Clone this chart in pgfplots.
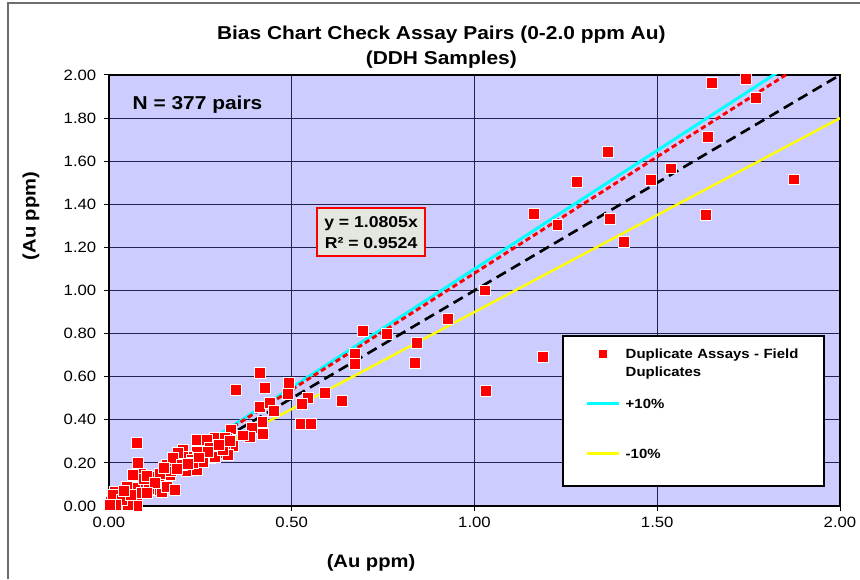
\documentclass[border=0pt]{standalone}
\usepackage{fontspec}
\setmainfont{Liberation Sans}[FakeStretch=1.12]
\usepackage{pgfplots}
\usepackage{pgfplotstable}
\pgfplotsset{compat=1.18}
\definecolor{plotbg}{RGB}{204,204,255}
\definecolor{gridc}{RGB}{35,35,80}
\definecolor{eqfill}{RGB}{228,230,224}
\definecolor{cyanl}{RGB}{0,255,255}
\definecolor{yell}{RGB}{255,255,0}
\definecolor{framec}{RGB}{110,110,110}
\pgfplotsset{
  leglinecode/.style={legend image code/.code={\draw[##1,line width=2pt] (0pt,3.5pt) -- (24pt,3.5pt);}},
  legmarkcode/.style={legend image code/.code={\draw[red,fill=red,line width=0.3pt] (9.4pt,0.9pt) rectangle (14.6pt,6.1pt);}},
}
\pgfplotstableread{
x y
1.743 1.981
1.651 1.963
1.770 1.892
1.640 1.711
1.366 1.641
1.280 1.503
1.482 1.511
1.537 1.566
1.874 1.515
1.164 1.355
1.227 1.304
1.371 1.331
1.633 1.350
1.409 1.223
1.029 1.000
0.927 0.868
0.695 0.812
0.761 0.798
0.843 0.756
0.673 0.705
0.673 0.659
0.837 0.663
1.187 0.691
1.031 0.533
0.591 0.523
0.638 0.489
0.414 0.617
0.348 0.540
0.427 0.546
0.492 0.572
0.489 0.520
0.545 0.500
0.528 0.475
0.413 0.460
0.440 0.477
0.452 0.443
0.420 0.389
0.526 0.380
0.553 0.380
0.422 0.333
0.390 0.360
0.386 0.322
0.367 0.327
0.333 0.355
0.322 0.312
0.290 0.314
0.240 0.306
0.267 0.306
0.340 0.280
0.317 0.260
0.290 0.260
0.240 0.252
0.276 0.224
0.255 0.210
0.213 0.229
0.203 0.260
0.304 0.245
0.326 0.237
0.0775 0.294
0.080 0.201
0.089 0.147
0.066 0.144
0.062 0.090
0.076 0.082
0.048 0.090
0.030 0.059
0.016 0.066
0.012 0.036
0.025 0.012
0.044 0.012
0.076 0.028
0.076 0.002
0.053 0.004
0.121 0.074
0.130 0.074
0.144 0.066
0.117 0.113
0.135 0.136
0.149 0.121
0.167 0.144
0.158 0.090
0.181 0.074
0.172 0.182
0.158 0.190
0.190 0.198
0.203 0.229
0.214 0.164
0.240 0.167
0.226 0.213
0.253 0.221
0.276 0.268
0.290 0.229
0.258 0.206
0.190 0.245
0.176 0.221
0.313 0.260
0.317 0.314
0.005 0.020
0.010 0.050
0.035 0.030
0.100 0.100
0.110 0.080
0.095 0.125
0.200 0.190
0.230 0.200
0.270 0.250
0.140 0.150
0.170 0.160
0.060 0.050
0.090 0.060
0.020 0.005
0.003 0.003
0.105 0.140
0.125 0.105
0.185 0.170
0.150 0.175
0.215 0.195
0.245 0.225
0.300 0.285
0.330 0.300
0.040 0.070
0.105 0.060
}\dupdata
\begin{document}
\begin{tikzpicture}
\useasboundingbox (0,0) rectangle (645pt,434.25pt);
\draw[framec,line width=0.8pt] (6pt,0pt) -- (6pt,432pt) -- (645pt,432pt);
\begin{axis}[
  at={(81.75pt,54.75pt)}, anchor=south west,
  width=548.25pt, height=323.25pt, scale only axis,
  xmin=0, xmax=2, ymin=0, ymax=2,
  xtick={0,0.5,1,1.5,2},
  ytick={0,0.2,0.4,0.6,0.8,1.0,1.2,1.4,1.6,1.8,2.0},
  axis background/.style={fill=plotbg},
  grid=major,
  major grid style={gridc,line width=0.75pt},
  axis line style={black,line width=1.1pt},
  tick style={black,line width=0.75pt},
  tick align=outside,
  major tick length=4pt,
  xtick pos=bottom, ytick pos=left,
  /pgf/number format/assume math mode=true,
  /pgf/number format/.cd, fixed, fixed zerofill, precision=2,
  /pgfplots/.cd,
  ticklabel style={font=\fontsize{11.2pt}{13pt}\selectfont, black},
  yticklabel style={xshift=-2pt},
  xticklabel style={yshift=-1pt},
  clip=true,
  legend style={at={(axis description cs:0.6197,0.3968)}, anchor=north west,
    draw=black, line width=1.6pt, fill=white,
    font=\bfseries\fontsize{10pt}{13.5pt}\selectfont,
    inner xsep=17pt, inner ysep=0pt, row sep=0pt, column sep=4pt,
    nodes={inner sep=0pt, text depth=},
    cells={anchor=base west}},
]
\addplot[cyanl, line width=2.2pt, forget plot] coordinates {(0,0) (2,2.2)};
\addplot[yell, line width=1.8pt, forget plot] coordinates {(0,0) (2,1.8)};
\addplot[black, line width=2pt, dash pattern=on 8pt off 4.5pt, forget plot] coordinates {(0,0) (2,2)};
\addplot[red, line width=2.2pt, dash pattern=on 4pt off 2.5pt, forget plot] coordinates {(0,0) (1.874,2.0248)};
\addplot[only marks, mark=square*, mark size=4.1pt,
  mark options={fill=red, draw=white, line width=0.75pt}, forget plot] table[x=x,y=y] {\dupdata};
\addlegendimage{legmarkcode}
\addlegendentry[align=left, text width=132pt, text height=16.5pt, text depth=19pt]{Duplicate Assays - Field\\Duplicates}
\addlegendimage{leglinecode, cyanl}
\addlegendentry[text height=18.5pt, text depth=18.75pt]{+10\%}
\addlegendimage{leglinecode, yell}
\addlegendentry[text height=18.75pt, text depth=21pt]{-10\%}
\node[anchor=west, font=\bfseries\fontsize{14pt}{16pt}\selectfont] at (axis cs:0.052,1.861) {N = 377 pairs};
\node[draw=red, line width=1.6pt, fill=eqfill, align=center, inner sep=2pt,
  minimum width=81pt, minimum height=36pt,
  font=\bfseries\fontsize{11.8pt}{15.75pt}\selectfont] at (axis cs:0.717,1.271) {y = 1.0805x\\R² = 0.9524};
\end{axis}
\node[anchor=base, font=\bfseries\fontsize{14pt}{16pt}\selectfont] at (331pt,404.25pt) {Bias Chart Check Assay Pairs (0-2.0 ppm Au)};
\node[anchor=base, font=\bfseries\fontsize{14pt}{16pt}\selectfont] at (331pt,385.5pt) {(DDH Samples)};
\node[anchor=base, font=\bfseries\fontsize{13.5pt}{16pt}\selectfont] at (278.25pt,9pt) {(Au ppm)};
\node[rotate=90, font=\bfseries\fontsize{13.5pt}{16pt}\selectfont] at (23.25pt,272.25pt) {(Au ppm)};
\end{tikzpicture}
\end{document}
